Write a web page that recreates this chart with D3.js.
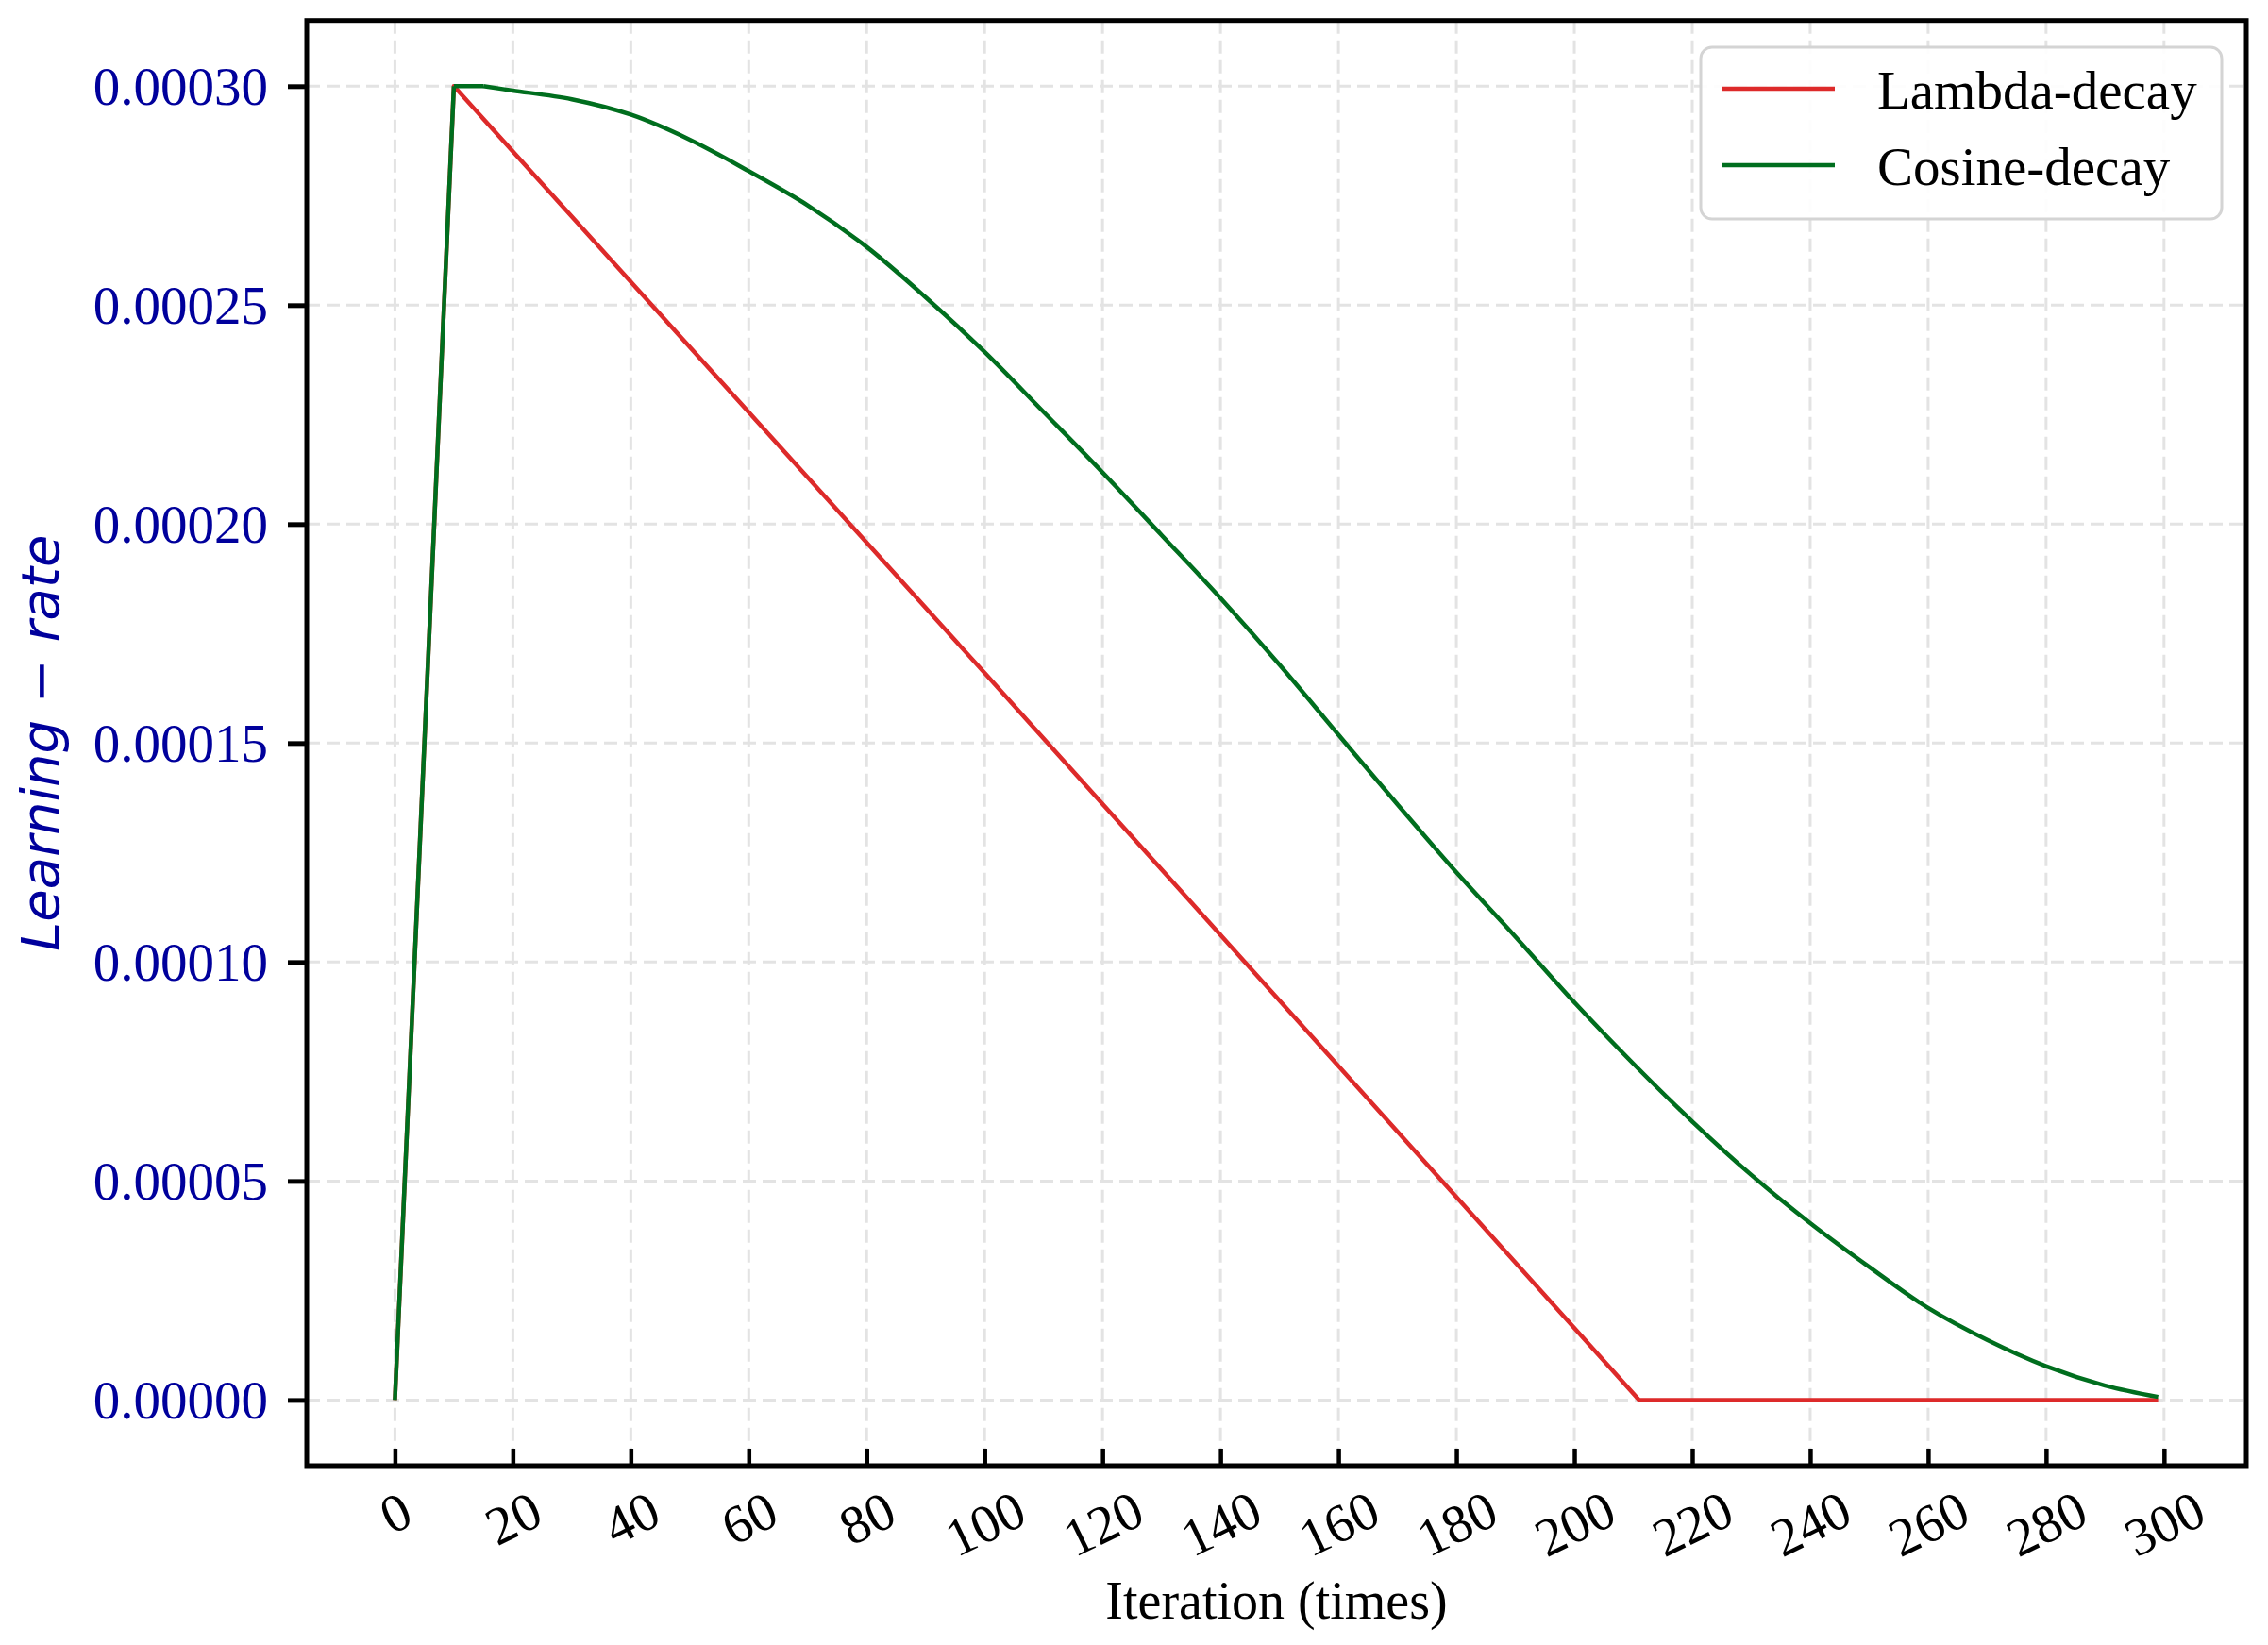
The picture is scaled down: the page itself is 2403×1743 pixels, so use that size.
<!DOCTYPE html>
<html><head><meta charset="utf-8">
<script src="https://cdn.jsdelivr.net/npm/d3@7"></script>
<style>body{margin:0;background:#fff}</style>
</head><body>
<svg id="chart" width="2403" height="1743"></svg>
<script>
// ---- data ----
const cosineIter = [0,10,15,20,30,40,50,60,70,80,90,100,110,120,130,140,150,160,170,180,190,200,210,220,230,240,250,260,270,280,290,299];
const cosineDecay = [0,0.0003,0.0003,0.000299,0.000297,0.0002935,0.0002878,0.0002806,0.0002728,0.0002633,0.0002518,0.0002393,0.0002256,0.0002118,0.0001975,0.0001831,0.0001679,0.0001519,0.000136,0.0001205,0.0001058,0.0000908,0.0000768,0.0000636,0.0000514,0.0000404,0.0000304,0.000021,0.0000137,0.0000077,0.0000033,0.0000007];
const lambdaIter = [0,10,100,211,299];
const lambdaDecay = [0,0.0003,0.000166,0,0];
const seriesNames = ["Lambda-decay","Cosine-decay"];
const xTickValues = [0,20,40,60,80,100,120,140,160,180,200,220,240,260,280,300];
const yTickValues = [0,0.00005,0.0001,0.00015,0.0002,0.00025,0.0003];
const xLabel = "Iteration (times)";
const yLabel = "Learning \u2212 rate";

// ---- layout ----
const L = 325, R = 2380, T = 21.7, B = 1553;
const RED = "#dd2a2a", GREEN = "#006e1e", BLUE = "#00009c";
const serif = "'Liberation Serif','Times New Roman',serif";
const svg = d3.select("#chart");
svg.append("rect").attr("width",2403).attr("height",1743).attr("fill","#fff");

const x = d3.scaleLinear().domain([-14.95, 313.95]).range([L, R]);
const y = d3.scaleLinear().domain([-0.000015, 0.000315]).range([B, T]);

// grid
const grid = svg.append("g").attr("stroke","#e3e3e3").attr("stroke-width",3).attr("stroke-dasharray","14,7");
grid.selectAll("line.v").data(xTickValues).join("line").attr("class","v")
  .attr("x1",d=>x(d)).attr("x2",d=>x(d)).attr("y1",T).attr("y2",B);
grid.selectAll("line.h").data(yTickValues).join("line").attr("class","h")
  .attr("y1",d=>y(d)).attr("y2",d=>y(d)).attr("x1",L).attr("x2",R);

// lines
const lineStraight = d3.line().x(d=>x(d[0])).y(d=>y(d[1]));
const lineSmooth = d3.line().x(d=>x(d[0])).y(d=>y(d[1])).curve(d3.curveCatmullRom.alpha(0.5));
svg.append("path").datum(lambdaIter.map((t,i)=>[t,lambdaDecay[i]]))
  .attr("d",lineStraight).attr("fill","none").attr("stroke",RED).attr("stroke-width",4.5).attr("stroke-linejoin","round");
const cosPts = cosineIter.map((t,i)=>[t,cosineDecay[i]]);
const gG = svg.append("g").attr("fill","none").attr("stroke",GREEN).attr("stroke-width",4.5).attr("stroke-linejoin","round");
gG.append("path").datum(cosPts.filter(d=>d[0]<=10)).attr("d",lineStraight);
gG.append("path").datum(cosPts.filter(d=>d[0]>=10 && d[0]<=15)).attr("d",lineStraight);
gG.append("path").datum(cosPts.filter(d=>d[0]>=15)).attr("d",lineSmooth);

// y axis
const yAxis = svg.append("g").attr("transform",`translate(${L},0)`)
  .call(d3.axisLeft(y).tickValues(yTickValues).tickSizeInner(20).tickSizeOuter(0).tickPadding(21).tickFormat(d3.format(".5f")));
yAxis.select(".domain").remove();
yAxis.selectAll(".tick line").attr("stroke","#000").attr("stroke-width",5);
yAxis.selectAll(".tick text").attr("fill",BLUE).attr("font-family",serif).attr("font-size",57).attr("dy",null).attr("dominant-baseline","central");

// x axis
const ang = 26, rad = ang*Math.PI/180, fs = 57;
const xAxis = svg.append("g").attr("transform",`translate(0,${B})`)
  .call(d3.axisBottom(x).tickValues(xTickValues).tickSizeInner(-18).tickSizeOuter(0).tickFormat(d3.format("d")));
xAxis.select(".domain").remove();
xAxis.selectAll(".tick line").attr("stroke","#000").attr("stroke-width",4.5);
xAxis.selectAll(".tick text").attr("fill","#000").attr("font-family",serif).attr("font-size",fs)
  .attr("y",null).attr("dy",null).attr("text-anchor","middle").attr("dominant-baseline","central")
  .each(function(){
    const w = this.getComputedTextLength()*0.92;
    const h = 0.66*fs;
    const yc = 27 + (w*Math.sin(rad) + h*Math.cos(rad))/2;
    d3.select(this).attr("transform",`translate(0,${yc}) rotate(${-ang})`);
  });

// frame
svg.append("rect").attr("x",L).attr("y",T).attr("width",R-L).attr("height",B-T)
  .attr("fill","none").attr("stroke","#000").attr("stroke-width",5);

// axis labels
svg.append("text").attr("x",(L+R)/2).attr("y",1715).attr("text-anchor","middle")
  .attr("font-family",serif).attr("font-size",56).attr("fill","#000").text(xLabel);
svg.append("text").attr("transform",`translate(62,${(T+B)/2}) rotate(-90)`).attr("text-anchor","middle")
  .attr("font-family","'DejaVu Sans',sans-serif").attr("font-style","italic").attr("font-size",56)
  .attr("fill",BLUE).text(yLabel);

// legend
const lg = svg.append("g");
lg.append("rect").attr("x",1802).attr("y",50).attr("width",552).attr("height",182).attr("rx",12)
  .attr("fill","#fff").attr("fill-opacity",0.9).attr("stroke","#d4d4d4").attr("stroke-width",3);
const lColors = [RED, GREEN];
seriesNames.forEach((n,i)=>{
  const yy = 94 + i*81;
  lg.append("line").attr("x1",1825).attr("x2",1944).attr("y1",yy).attr("y2",yy)
    .attr("stroke",lColors[i]).attr("stroke-width",4.5);
  lg.append("text").attr("x",1989).attr("y",yy+21).attr("font-family",serif).attr("font-size",57)
    .attr("fill","#000").text(n);
});
</script>
</body></html>
